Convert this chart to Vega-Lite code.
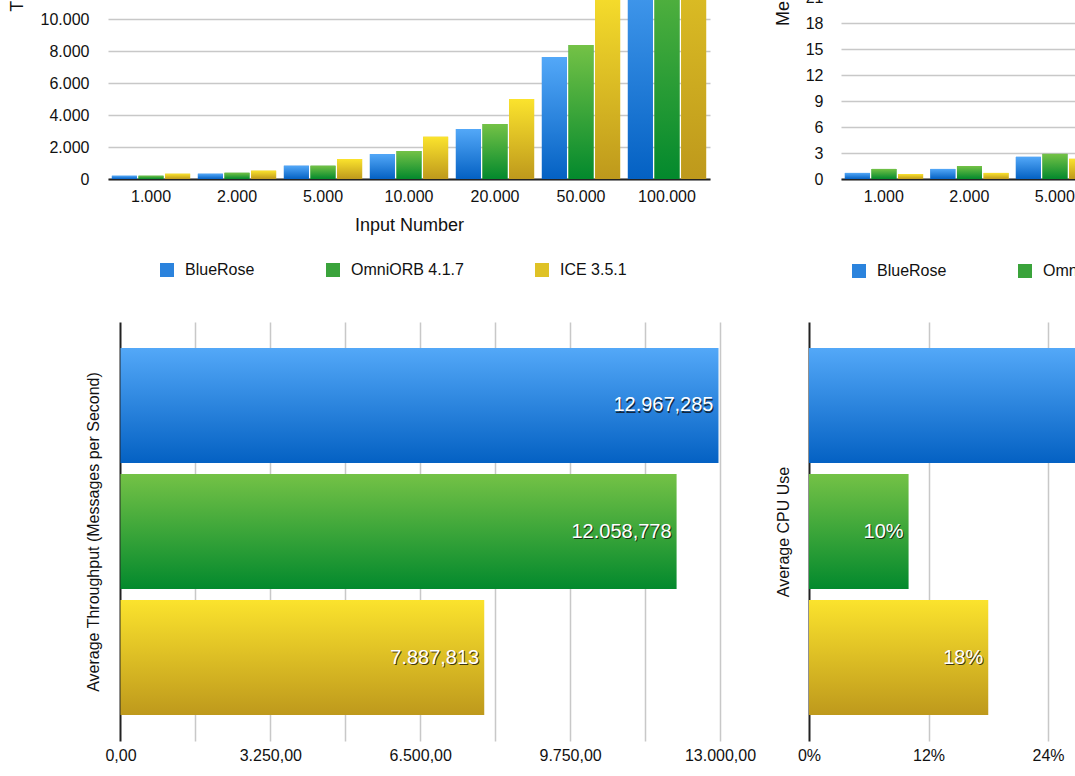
{
  "$schema": "https://vega.github.io/schema/vega-lite/v6.json",
  "background": "white",
  "padding": {"top": -245, "left": 8, "right": -279, "bottom": 5},
  "datasets": {
    "time": [
      {"input": 1000, "system": "BlueRose", "value": 205},
      {"input": 1000, "system": "OmniORB 4.1.7", "value": 205},
      {"input": 1000, "system": "ICE 3.5.1", "value": 330},
      {"input": 2000, "system": "BlueRose", "value": 330},
      {"input": 2000, "system": "OmniORB 4.1.7", "value": 390},
      {"input": 2000, "system": "ICE 3.5.1", "value": 520},
      {"input": 5000, "system": "BlueRose", "value": 830},
      {"input": 5000, "system": "OmniORB 4.1.7", "value": 830},
      {"input": 5000, "system": "ICE 3.5.1", "value": 1250},
      {"input": 10000, "system": "BlueRose", "value": 1560},
      {"input": 10000, "system": "OmniORB 4.1.7", "value": 1750},
      {"input": 10000, "system": "ICE 3.5.1", "value": 2640},
      {"input": 20000, "system": "BlueRose", "value": 3125},
      {"input": 20000, "system": "OmniORB 4.1.7", "value": 3440},
      {"input": 20000, "system": "ICE 3.5.1", "value": 5000},
      {"input": 50000, "system": "BlueRose", "value": 7625},
      {"input": 50000, "system": "OmniORB 4.1.7", "value": 8375},
      {"input": 50000, "system": "ICE 3.5.1", "value": 12600},
      {"input": 100000, "system": "BlueRose", "value": 15400},
      {"input": 100000, "system": "OmniORB 4.1.7", "value": 17000},
      {"input": 100000, "system": "ICE 3.5.1", "value": 25000}
    ],
    "memory": [
      {"input": 1000, "system": "BlueRose", "value": 0.7},
      {"input": 1000, "system": "OmniORB 4.1.7", "value": 1.16},
      {"input": 1000, "system": "ICE 3.5.1", "value": 0.58},
      {"input": 2000, "system": "BlueRose", "value": 1.16},
      {"input": 2000, "system": "OmniORB 4.1.7", "value": 1.5},
      {"input": 2000, "system": "ICE 3.5.1", "value": 0.7},
      {"input": 5000, "system": "BlueRose", "value": 2.56},
      {"input": 5000, "system": "OmniORB 4.1.7", "value": 2.9},
      {"input": 5000, "system": "ICE 3.5.1", "value": 2.33},
      {"input": 10000, "system": "BlueRose", "value": 5.1},
      {"input": 10000, "system": "OmniORB 4.1.7", "value": 5.8},
      {"input": 10000, "system": "ICE 3.5.1", "value": 4.4},
      {"input": 20000, "system": "BlueRose", "value": 10.2},
      {"input": 20000, "system": "OmniORB 4.1.7", "value": 11.5},
      {"input": 20000, "system": "ICE 3.5.1", "value": 8.9},
      {"input": 50000, "system": "BlueRose", "value": 25.0},
      {"input": 50000, "system": "OmniORB 4.1.7", "value": 28.0},
      {"input": 50000, "system": "ICE 3.5.1", "value": 21.5}
    ],
    "summary": [
      {"system": "BlueRose", "throughput": 12967.285, "cpu": 0.33},
      {"system": "OmniORB 4.1.7", "throughput": 12058.778, "cpu": 0.10},
      {"system": "ICE 3.5.1", "throughput": 7887.813, "cpu": 0.18}
    ]
  },
  "vconcat": [
    {
      "hconcat": [
        {
          "width": 602,
          "height": 416,
          "data": {"name": "time"},
          "encoding": {
            "x": {
              "field": "input", "type": "ordinal",
              "scale": {"paddingInner": 0.09, "paddingOuter": 0.045},
              "axis": {"title": "Input Number", "labelAngle": 0, "format": ",d", "formatType": "number", "domain": true, "domainColor": "#222222", "domainWidth": 2, "labelPadding": 9, "titlePadding": 12, "titleFontSize": 18, "grid": false}
            },
            "xOffset": {
              "field": "system", "type": "nominal",
              "scale": {"domain": ["BlueRose", "OmniORB 4.1.7", "ICE 3.5.1"], "paddingInner": 0.06, "paddingOuter": 0}
            },
            "y": {
              "field": "value", "type": "quantitative",
              "scale": {"domain": [0, 26000], "nice": false},
              "axis": {"title": "Time (ms)", "values": [0, 2000, 4000, 6000, 8000, 10000, 12000, 14000, 16000, 18000, 20000, 22000, 24000, 26000], "format": ",d", "labelPadding": 19, "titlePadding": 14, "titleFontSize": 18, "grid": true}
            }
          },
          "layer": [
            {
              "mark": {"type": "bar"},
              "encoding": {
                "fill": {
                  "field": "system", "type": "nominal",
                  "scale": {"domain": ["BlueRose", "OmniORB 4.1.7", "ICE 3.5.1"], "range": ["#2b83dd", "#3aa33b", "#dfc226"]},
                  "legend": {"orient": "none", "legendX": 51, "legendY": 499, "direction": "horizontal", "title": null, "symbolType": "square", "symbolSize": 196, "labelFontSize": 16, "labelOffset": 10, "columnPadding": 70, "padding": 0, "symbolStrokeWidth": 0, "symbolOpacity": 1}
                }
              }
            },
            {
              "transform": [{"filter": "datum.system === 'BlueRose'"}],
              "mark": {"type": "bar", "fill": {"gradient": "linear", "x1": 0, "y1": 0, "x2": 0, "y2": 1, "stops": [{"offset": 0, "color": "#53a8f8"}, {"offset": 1, "color": "#0461c3"}]}}
            },
            {
              "transform": [{"filter": "datum.system === 'OmniORB 4.1.7'"}],
              "mark": {"type": "bar", "fill": {"gradient": "linear", "x1": 0, "y1": 0, "x2": 0, "y2": 1, "stops": [{"offset": 0, "color": "#74c246"}, {"offset": 1, "color": "#03892d"}]}}
            },
            {
              "transform": [{"filter": "datum.system === 'ICE 3.5.1'"}],
              "mark": {"type": "bar", "fill": {"gradient": "linear", "x1": 0, "y1": 0, "x2": 0, "y2": 1, "stops": [{"offset": 0, "color": "#fbe32d"}, {"offset": 1, "color": "#be991c"}]}}
            }
          ]
        },
        {
          "width": 513,
          "height": 416,
          "data": {"name": "memory"},
          "encoding": {
            "x": {
              "field": "input", "type": "ordinal",
              "scale": {"paddingInner": 0.09, "paddingOuter": 0.045},
              "axis": {"title": null, "labelAngle": 0, "format": ",d", "formatType": "number", "domain": true, "domainColor": "#222222", "domainWidth": 2, "labelPadding": 9, "grid": false}
            },
            "xOffset": {
              "field": "system", "type": "nominal",
              "scale": {"domain": ["BlueRose", "OmniORB 4.1.7", "ICE 3.5.1"], "paddingInner": 0.06, "paddingOuter": 0}
            },
            "y": {
              "field": "value", "type": "quantitative",
              "scale": {"domain": [0, 48], "nice": false},
              "axis": {"title": "Memory (MB)", "values": [0, 3, 6, 9, 12, 15, 18, 21, 24, 27, 30, 33, 36, 39, 42, 45, 48], "format": "d", "labelPadding": 18, "titlePadding": 13, "titleFontSize": 18, "grid": true}
            }
          },
          "layer": [
            {
              "mark": {"type": "bar"},
              "encoding": {
                "fill": {
                  "field": "system", "type": "nominal",
                  "scale": {"domain": ["BlueRose", "OmniORB 4.1.7", "ICE 3.5.1"], "range": ["#2b83dd", "#3aa33b", "#dfc226"]},
                  "legend": {"orient": "bottom", "direction": "horizontal", "title": null, "symbolType": "square", "symbolSize": 196, "labelFontSize": 16, "labelOffset": 10, "columnPadding": 70, "padding": 10, "offset": 49, "symbolStrokeWidth": 0, "symbolOpacity": 1}
                }
              }
            },
            {
              "transform": [{"filter": "datum.system === 'BlueRose'"}],
              "mark": {"type": "bar", "fill": {"gradient": "linear", "x1": 0, "y1": 0, "x2": 0, "y2": 1, "stops": [{"offset": 0, "color": "#53a8f8"}, {"offset": 1, "color": "#0461c3"}]}}
            },
            {
              "transform": [{"filter": "datum.system === 'OmniORB 4.1.7'"}],
              "mark": {"type": "bar", "fill": {"gradient": "linear", "x1": 0, "y1": 0, "x2": 0, "y2": 1, "stops": [{"offset": 0, "color": "#74c246"}, {"offset": 1, "color": "#03892d"}]}}
            },
            {
              "transform": [{"filter": "datum.system === 'ICE 3.5.1'"}],
              "mark": {"type": "bar", "fill": {"gradient": "linear", "x1": 0, "y1": 0, "x2": 0, "y2": 1, "stops": [{"offset": 0, "color": "#fbe32d"}, {"offset": 1, "color": "#be991c"}]}}
            }
          ]
        }
      ],
      "spacing": 64,
      "resolve": {"scale": {"fill": "independent"}, "legend": {"fill": "independent"}}
    },
    {
      "hconcat": [
        {
          "width": 612,
          "height": 419,
          "data": {"name": "summary"},
          "encoding": {
            "y": {
              "field": "system", "type": "nominal",
              "scale": {"domain": ["BlueRose", "OmniORB 4.1.7", "ICE 3.5.1"], "paddingInner": 0.087, "paddingOuter": 0.206},
              "axis": {"title": "Average Throughput (Messages per Second)", "labels": false, "titleFontSize": 16, "titlePadding": 7, "grid": false}
            },
            "x": {
              "field": "throughput", "type": "quantitative",
              "scale": {"domain": [-270.8, 13000], "nice": false, "zero": false},
              "axis": {
                "title": null,
                "values": [0, 1625, 3250, 4875, 6500, 8125, 9750, 11375, 13000],
                "labelExpr": "datum.value % 3250 === 0 ? format(datum.value, ',.2f') : ''",
                "labelPadding": 6,
                "grid": true,
                "gridColor": {"condition": {"test": "datum.value === 0", "value": "#222222"}, "value": "#c8c8c8"},
                "gridWidth": {"condition": {"test": "datum.value === 0", "value": 2}, "value": 1.5}
              }
            }
          },
          "layer": [
            {
              "transform": [{"filter": "datum.system === 'BlueRose'"}],
              "mark": {"type": "bar", "fill": {"gradient": "linear", "x1": 0, "y1": 0, "x2": 0, "y2": 1, "stops": [{"offset": 0, "color": "#53a8f8"}, {"offset": 1, "color": "#0461c3"}]}},
              "encoding": {"x2": {"datum": 0}}
            },
            {
              "transform": [{"filter": "datum.system === 'OmniORB 4.1.7'"}],
              "mark": {"type": "bar", "fill": {"gradient": "linear", "x1": 0, "y1": 0, "x2": 0, "y2": 1, "stops": [{"offset": 0, "color": "#74c246"}, {"offset": 1, "color": "#03892d"}]}},
              "encoding": {"x2": {"datum": 0}}
            },
            {
              "transform": [{"filter": "datum.system === 'ICE 3.5.1'"}],
              "mark": {"type": "bar", "fill": {"gradient": "linear", "x1": 0, "y1": 0, "x2": 0, "y2": 1, "stops": [{"offset": 0, "color": "#fbe32d"}, {"offset": 1, "color": "#be991c"}]}},
              "encoding": {"x2": {"datum": 0}}
            },
            {
              "mark": {"type": "text", "align": "right", "dx": -4, "dy": 1.5, "fontSize": 20, "color": "#0a0a0a", "opacity": 0.75},
              "encoding": {"text": {"field": "throughput", "type": "quantitative", "format": ",.3f"}}
            },
            {
              "mark": {"type": "text", "align": "right", "dx": -5, "fontSize": 20, "color": "#ffffff"},
              "encoding": {"text": {"field": "throughput", "type": "quantitative", "format": ",.3f"}}
            }
          ]
        },
        {
          "width": 478,
          "height": 419,
          "data": {"name": "summary"},
          "encoding": {
            "y": {
              "field": "system", "type": "nominal",
              "scale": {"domain": ["BlueRose", "OmniORB 4.1.7", "ICE 3.5.1"], "paddingInner": 0.087, "paddingOuter": 0.206},
              "axis": {"title": "Average CPU Use", "labels": false, "titleFontSize": 16, "titlePadding": 18, "grid": false}
            },
            "x": {
              "field": "cpu", "type": "quantitative",
              "scale": {"domain": [0, 0.48], "nice": false},
              "axis": {
                "title": null,
                "values": [0, 0.12, 0.24, 0.36, 0.48],
                "format": ".0%",
                "labelPadding": 6,
                "grid": true,
                "gridColor": {"condition": {"test": "datum.value === 0", "value": "#222222"}, "value": "#c8c8c8"},
                "gridWidth": {"condition": {"test": "datum.value === 0", "value": 2}, "value": 1.5}
              }
            }
          },
          "layer": [
            {
              "transform": [{"filter": "datum.system === 'BlueRose'"}],
              "mark": {"type": "bar", "fill": {"gradient": "linear", "x1": 0, "y1": 0, "x2": 0, "y2": 1, "stops": [{"offset": 0, "color": "#53a8f8"}, {"offset": 1, "color": "#0461c3"}]}}
            },
            {
              "transform": [{"filter": "datum.system === 'OmniORB 4.1.7'"}],
              "mark": {"type": "bar", "fill": {"gradient": "linear", "x1": 0, "y1": 0, "x2": 0, "y2": 1, "stops": [{"offset": 0, "color": "#74c246"}, {"offset": 1, "color": "#03892d"}]}}
            },
            {
              "transform": [{"filter": "datum.system === 'ICE 3.5.1'"}],
              "mark": {"type": "bar", "fill": {"gradient": "linear", "x1": 0, "y1": 0, "x2": 0, "y2": 1, "stops": [{"offset": 0, "color": "#fbe32d"}, {"offset": 1, "color": "#be991c"}]}}
            },
            {
              "mark": {"type": "text", "align": "right", "dx": -4, "dy": 1.5, "fontSize": 20, "color": "#0a0a0a", "opacity": 0.75},
              "encoding": {"text": {"field": "cpu", "type": "quantitative", "format": ".0%"}}
            },
            {
              "mark": {"type": "text", "align": "right", "dx": -5, "fontSize": 20, "color": "#ffffff"},
              "encoding": {"text": {"field": "cpu", "type": "quantitative", "format": ".0%"}}
            }
          ]
        }
      ],
      "spacing": 19,
      "resolve": {"scale": {"fill": "independent"}, "legend": {"fill": "independent"}}
    }
  ],
  "spacing": 33,
  "resolve": {"scale": {"fill": "independent"}, "legend": {"fill": "independent"}},
  "config": {
    "locale": {"number": {"decimal": ",", "thousands": ".", "grouping": [3], "currency": ["", ""]}},
    "font": "Liberation Sans",
    "view": {"stroke": null},
    "axis": {"labelFontSize": 16, "labelColor": "#111111", "titleColor": "#111111", "titleFontWeight": "normal", "ticks": false, "tickSize": 0, "domain": false, "gridColor": "#c8c8c8", "gridWidth": 1.5, "labelFlush": false, "labelOverlap": false},
    "legend": {"labelColor": "#111111", "layout": {"bottom": {"anchor": "start"}}}
  }
}
